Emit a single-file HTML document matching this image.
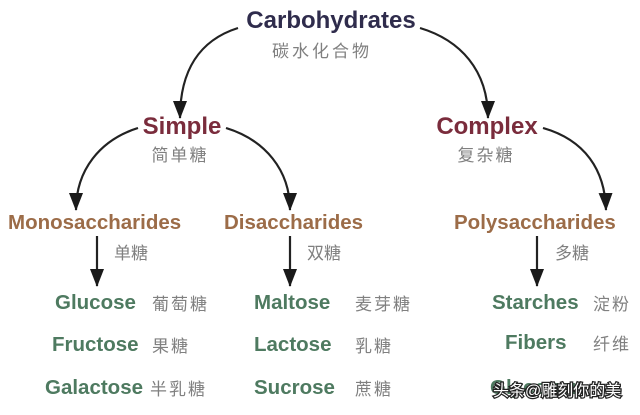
<!DOCTYPE html>
<html><head><meta charset="utf-8"><style>
html,body{margin:0;padding:0;background:#fff;width:640px;height:415px;overflow:hidden}
text{font-family:"Liberation Sans","Noto Sans CJK SC",sans-serif}
.b{font-weight:bold}
.cn{fill:#808080;font-size:17px}
.g{fill:#4e7a60;font-weight:bold;font-size:20.5px}
.o{fill:#9c6c48;font-weight:bold;font-size:20.5px}
</style></head><body>
<svg width="640" height="415" viewBox="0 0 640 415" xmlns="http://www.w3.org/2000/svg">
<defs>
<marker id="m" markerWidth="18" markerHeight="14" refX="17" refY="7" orient="auto" markerUnits="userSpaceOnUse" viewBox="0 0 18 14"><path d="M0,0 L18,7 L0,14Z" fill="#1a1a1a"/></marker></defs>
<g fill="none" stroke="#222" stroke-width="2.2">
<path d="M238,28 C200,40 180,70 180,118" marker-end="url(#m)"/>
<path d="M420,28 C460,40 488,70 488,118" marker-end="url(#m)"/>
<path d="M138,128 C100,140 76,170 76,210" marker-end="url(#m)"/>
<path d="M226,128 C265,140 290,170 290,210" marker-end="url(#m)"/>
<path d="M543,128 C585,140 605,170 606,210" marker-end="url(#m)"/>
<path d="M97,236 L97,286" marker-end="url(#m)"/>
<path d="M290,236 L290,286" marker-end="url(#m)"/>
<path d="M537,236 L537,286" marker-end="url(#m)"/>
</g>
<text x="331" y="28" text-anchor="middle" class="b" font-size="24" fill="#2f2c4c">Carbohydrates</text>
<text x="322" y="57" text-anchor="middle" class="cn" letter-spacing="3">碳水化合物</text>
<text x="182" y="134" text-anchor="middle" class="b" font-size="24" fill="#7a2c3c">Simple</text>
<text x="180" y="161" text-anchor="middle" class="cn" letter-spacing="2">简单糖</text>
<text x="487" y="134" text-anchor="middle" class="b" font-size="24" fill="#7a2c3c">Complex</text>
<text x="486" y="161" text-anchor="middle" class="cn" letter-spacing="2">复杂糖</text>
<text x="8" y="229" class="o">Monosaccharides</text>
<text x="224" y="229" class="o">Disaccharides</text>
<text x="454" y="229" class="o">Polysaccharides</text>
<text x="114" y="259" class="cn">单糖</text>
<text x="307" y="259" class="cn">双糖</text>
<text x="555" y="259" class="cn">多糖</text>
<text x="55" y="309" class="g">Glucose</text><text x="152" y="310" class="cn" letter-spacing="2">葡萄糖</text>
<text x="52" y="351" class="g">Fructose</text><text x="152" y="352" class="cn" letter-spacing="2">果糖</text>
<text x="45" y="394" class="g">Galactose</text><text x="150" y="395" class="cn" letter-spacing="2">半乳糖</text>
<text x="254" y="309" class="g">Maltose</text><text x="355" y="310" class="cn" letter-spacing="2">麦芽糖</text>
<text x="254" y="351" class="g">Lactose</text><text x="355" y="352" class="cn" letter-spacing="2">乳糖</text>
<text x="254" y="394" class="g">Sucrose</text><text x="355" y="395" class="cn" letter-spacing="2">蔗糖</text>
<text x="492" y="309" class="g">Starches</text><text x="593" y="310" class="cn" letter-spacing="2">淀粉</text>
<text x="505" y="349" class="g">Fibers</text><text x="593" y="350" class="cn" letter-spacing="2">纤维</text>
<text x="490" y="394" class="g">Glycogen</text>
<text x="493" y="396" font-size="16" fill="#fff" stroke="#222" stroke-width="2.5" paint-order="stroke">头条@雕刻你的美</text>
</svg>
</body></html>
